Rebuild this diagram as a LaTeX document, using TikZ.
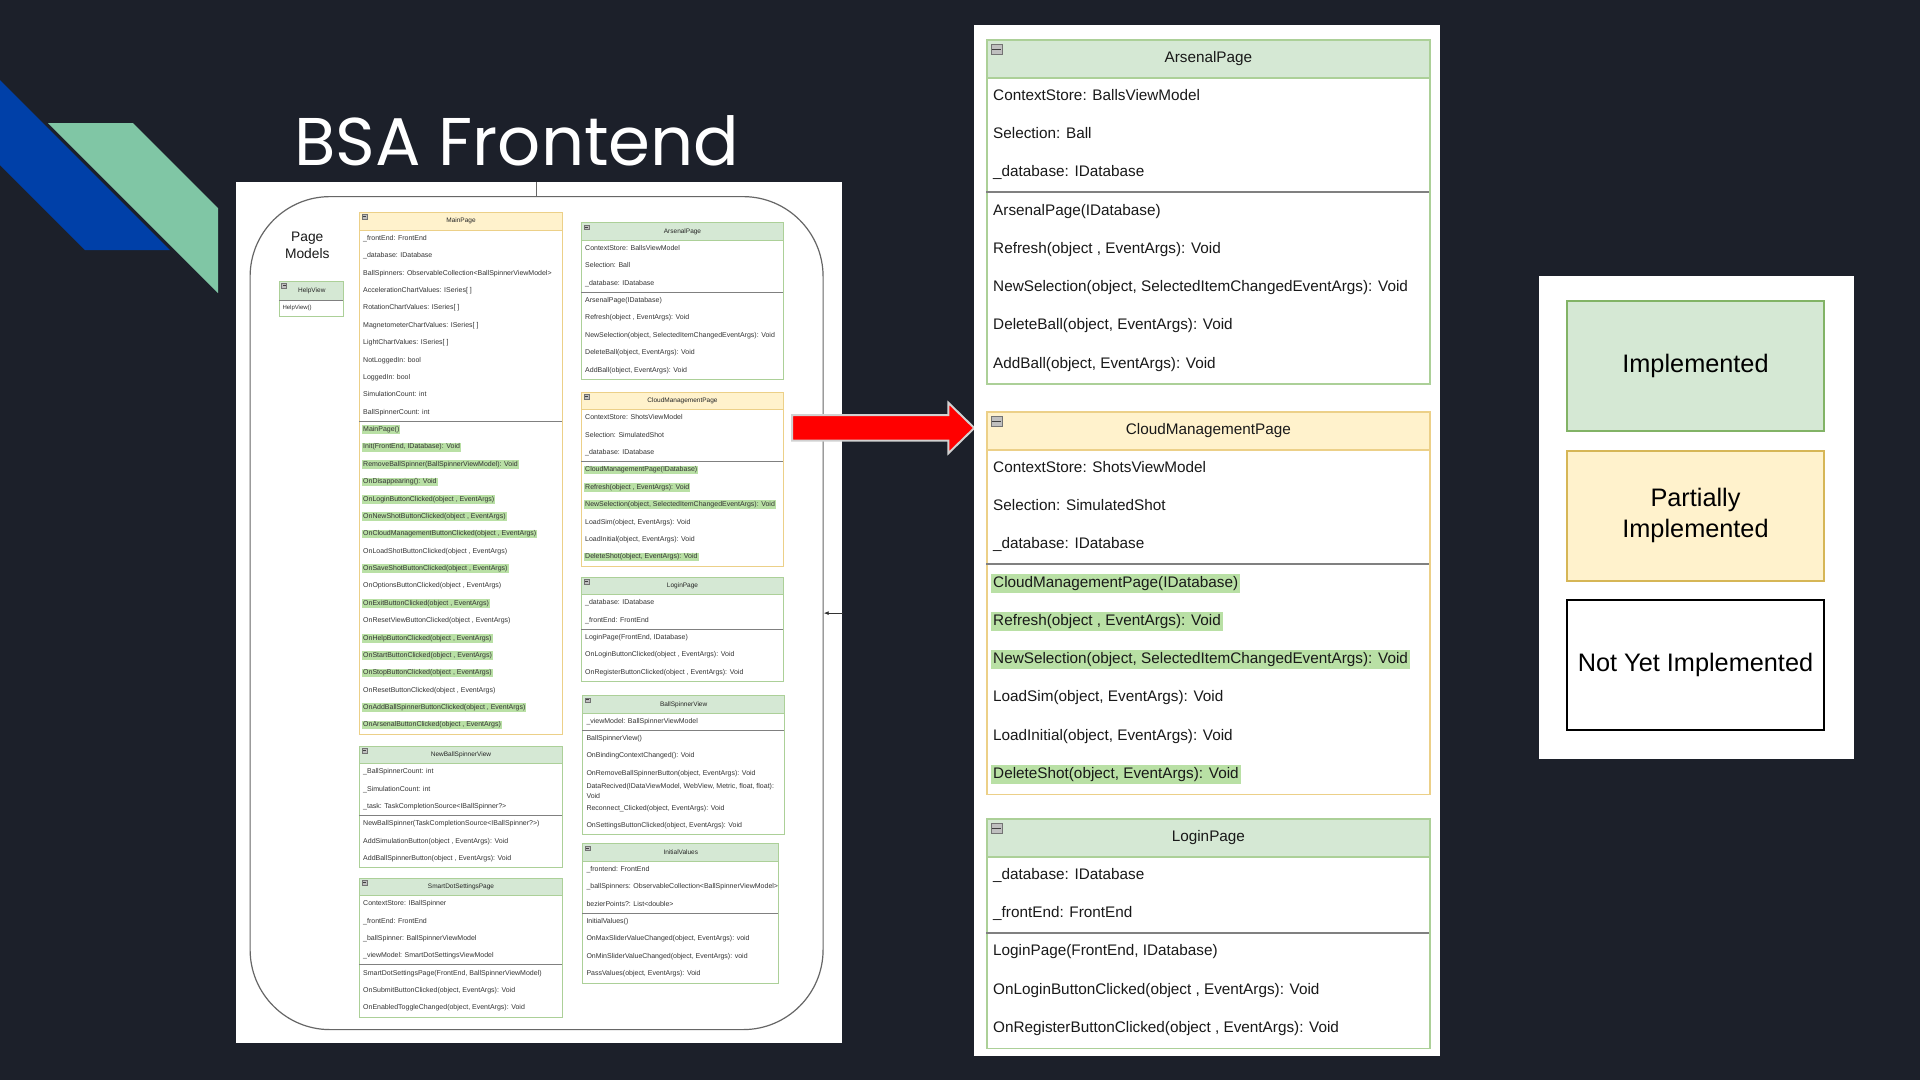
\documentclass[tikz,border=0pt]{standalone}
\usepackage{fontspec}
\setmainfont{Liberation Sans}
\newfontfamily\titlefont{Poppins}
\usepackage{tikz}
\usetikzlibrary{arrows.meta}
\usetikzlibrary{positioning}

\definecolor{bgdark}{RGB}{28,32,42}
\definecolor{stripeblue}{RGB}{0,64,168}
\definecolor{stripegreen}{RGB}{128,198,165}
\definecolor{grnF}{RGB}{213,232,212}
\definecolor{grnD}{RGB}{172,208,152}
\definecolor{yelF}{RGB}{255,242,204}
\definecolor{yelD}{RGB}{236,208,136}
\definecolor{grnLeg}{RGB}{130,179,102}
\definecolor{yelLeg}{RGB}{214,182,86}
\definecolor{hlgreen}{RGB}{185,224,165}
\definecolor{sepgray}{RGB}{128,128,128}

\tikzstyle{row} = [anchor=west, inner xsep=1pt, inner ysep=1pt, text height=5.2pt, text depth=1.6pt, text=black!80, font=\fontsize{7}{8.4}\selectfont]
\tikzstyle{brow} = [anchor=west, inner xsep=2pt, inner ysep=2pt, text height=11.5pt, text depth=3.5pt, text=black!90, font=\fontsize{15.3}{18}\selectfont]

% rows shared by the small and the zoomed classes
\newcommand{\arsAttr}{{ContextStore: BallsViewModel},{Selection: Ball},{\_database: IDatabase}}
\newcommand{\arsMeth}{todo/{ArsenalPage(IDatabase)},todo/{Refresh(object , EventArgs): Void},todo/{NewSelection(object, SelectedItemChangedEventArgs): Void},todo/{DeleteBall(object, EventArgs): Void},todo/{AddBall(object, EventArgs): Void}}
\newcommand{\cloudAttr}{{ContextStore: ShotsViewModel},{Selection: SimulatedShot},{\_database: IDatabase}}
\newcommand{\cloudMeth}{done/{CloudManagementPage(IDatabase)},done/{Refresh(object , EventArgs): Void},done/{NewSelection(object, SelectedItemChangedEventArgs): Void},todo/{LoadSim(object, EventArgs): Void},todo/{LoadInitial(object, EventArgs): Void},done/{DeleteShot(object, EventArgs): Void}}
\newcommand{\loginAttr}{{\_database: IDatabase},{\_frontEnd: FrontEnd}}
\newcommand{\loginMeth}{todo/{LoginPage(FrontEnd, IDatabase)},todo/{OnLoginButtonClicked(object , EventArgs): Void},todo/{OnRegisterButtonClicked(object , EventArgs): Void}}

\begin{document}
\begin{tikzpicture}[x=1pt, y=-1pt,
	cls/.style={draw=#1, fill=white, line width=1pt, anchor=north west, inner sep=0pt},
	hd/.style={anchor=north west, inner sep=0pt, line width=1pt, text=black!85, font=\fontsize{6.5}{7}\selectfont},
	grn/.style={draw=grnD, fill=grnF},
	yel/.style={draw=yelD, fill=yelF},
	big/.style={line width=1.5pt, text=black!90, font=\fontsize{15.3}{18}\selectfont},
	icon/.style={anchor=north west, draw=black!55, fill=black!25, line width=0.4pt,
		minimum width=5pt, minimum height=4.5pt, inner sep=0pt,
		path picture={\fill[black!75] ([xshift=1pt,yshift=-0.5pt]path picture bounding box.west)
			rectangle ([xshift=-1pt,yshift=0.5pt]path picture bounding box.east);}},
	bigicon/.style={icon, minimum width=11pt, minimum height=10pt, line width=0.6pt},
	divider/.style={draw=sepgray, line width=#1}, divider/.default=1pt,
	done/.style={fill=hlgreen}, todo/.style={},
	legend/.style={draw=#1, line width=2pt, minimum width=257pt, minimum height=130pt,
		inner sep=0pt, align=center, text=black, font=\fontsize{25.3}{30.6}\selectfont}]
	\useasboundingbox (0,0) rectangle (1920,1080);
	\fill[bgdark] (0,0) rectangle (1920,1080);
	%% Slide decoration
	\fill[stripeblue] (0,80) -- (170,250) -- (85,250) -- (0,165) -- cycle;
	\fill[stripegreen] (48,123) -- (133,123) -- (218,208) -- (218,293) -- cycle;
	\node[anchor=base west, inner sep=0pt, text=white, font=\titlefont\fontsize{67.5}{74}\selectfont] (title) at (294,165) {BSA Frontend};
	%% Screenshot of the whole diagram
	\node[fill=white, anchor=north west, inner sep=0pt, minimum width=605.5, minimum height=861] (shot) at (236,182) {};
	\node[draw=black!60, line width=1.2pt, rounded corners=80pt, anchor=north west, inner sep=0pt, minimum width=573, minimum height=833] (lane) at (249.5,196) {};
	\coordinate (laneTop) at ([yshift=14pt]lane.north);
	\draw[line width=0.8pt, black!60] (laneTop) -- (lane.north);
	\coordinate (laneIn) at ([xshift=19pt]lane.east);
	\draw[-{Latex[length=5pt,width=4pt]}, line width=0.8pt, black!80] (laneIn) -- (lane.east);
	\node[align=center, text=black!90, font=\fontsize{13.8}{17.3}\selectfont] (pm) at (307.3,245.3) {Page\\Models};
	% HelpView
	\node[cls=grnD, minimum width=64, minimum height=35] (hv) at (279.3,281) {};
	\node[hd, grn, minimum width=64, minimum height=19] (hvT) at (279.3,281) {HelpView};
	\node[icon] (hvI) at ([xshift=2pt,yshift=-2pt]hvT.north west) {};
	\draw[divider] (279.3,300) -- (343.3,300);
	\node[row, font=\fontsize{6}{7}\selectfont] (hvM1) at (281.3,308) {HelpView()};
	% MainPage
	\node[cls=yelD, minimum width=203, minimum height=522.2] (mp) at (359,211.5) {};
	\node[hd, yel, minimum width=203, minimum height=18.5] (mpT) at (359,211.5) {MainPage};
	\node[icon] (mpI) at ([xshift=2.5pt,yshift=-2.5pt]mpT.north west) {};
	\draw[divider] (359,421.1) -- (562,421.1);
	\foreach \txt [count=\i] in {{\_frontEnd: FrontEnd},{\_database: IDatabase},{BallSpinners: ObservableCollection<BallSpinnerViewModel>},{AccelerationChartValues: ISeries[ ]},{RotationChartValues: ISeries[ ]},{MagnetometerChartValues: ISeries[ ]},{LightChartValues: ISeries[ ]},{NotLoggedIn: bool},{LoggedIn: bool},{SimulationCount: int},{BallSpinnerCount: int}}
		\node[row] (mpA\i) at (362,{230+(\i-0.5)*17.37}) {\txt};
	\foreach \mk/\txt [count=\i] in {done/{MainPage()},done/{Init(FrontEnd, IDatabase): Void},done/{RemoveBallSpinner(BallSpinnerViewModel): Void},done/{OnDisappearing(): Void},done/{OnLoginButtonClicked(object , EventArgs)},done/{OnNewShotButtonClicked(object , EventArgs)},done/{OnCloudManagementButtonClicked(object , EventArgs)},todo/{OnLoadShotButtonClicked(object , EventArgs)},done/{OnSaveShotButtonClicked(object , EventArgs)},todo/{OnOptionsButtonClicked(object , EventArgs)},done/{OnExitButtonClicked(object , EventArgs)},todo/{OnResetViewButtonClicked(object , EventArgs)},done/{OnHelpButtonClicked(object , EventArgs)},done/{OnStartButtonClicked(object , EventArgs)},done/{OnStopButtonClicked(object , EventArgs)},todo/{OnResetButtonClicked(object , EventArgs)},done/{OnAddBallSpinnerButtonClicked(object , EventArgs)},done/{OnArsenalButtonClicked(object , EventArgs)}}
		\node[row,\mk] (mpM\i) at (362,{421.1+(\i-0.5)*17.37}) {\txt};
	% NewBallSpinnerView
	\node[cls=grnD, minimum width=203, minimum height=121.9] (nb) at (359,745.5) {};
	\node[hd, grn, minimum width=203, minimum height=17.7] (nbT) at (359,745.5) {NewBallSpinnerView};
	\node[icon] (nbI) at ([xshift=2.5pt,yshift=-2.5pt]nbT.north west) {};
	\draw[divider] (359,815.3) -- (562,815.3);
	\foreach \txt [count=\i] in {{\_BallSpinnerCount: int},{\_SimulationCount: int},{\_task: TaskCompletionSource<IBallSpinner?>}}
		\node[row] (nbA\i) at (362,{763.2+(\i-0.5)*17.37}) {\txt};
	\foreach \txt [count=\i] in {{NewBallSpinner(TaskCompletionSource<IBallSpinner?>)},{AddSimulationButton(object , EventArgs): Void},{AddBallSpinnerButton(object , EventArgs): Void}}
		\node[row] (nbM\i) at (362,{815.3+(\i-0.5)*17.37}) {\txt};
	% SmartDotSettingsPage
	\node[cls=grnD, minimum width=203, minimum height=139.1] (sd) at (359,877.7) {};
	\node[hd, grn, minimum width=203, minimum height=17.5] (sdT) at (359,877.7) {SmartDotSettingsPage};
	\node[icon] (sdI) at ([xshift=2.5pt,yshift=-2.5pt]sdT.north west) {};
	\draw[divider] (359,964.7) -- (562,964.7);
	\foreach \txt [count=\i] in {{ContextStore: IBallSpinner},{\_frontEnd: FrontEnd},{\_ballSpinner: BallSpinnerViewModel},{\_viewModel: SmartDotSettingsViewModel}}
		\node[row] (sdA\i) at (362,{895.2+(\i-0.5)*17.37}) {\txt};
	\foreach \txt [count=\i] in {{SmartDotSettingsPage(FrontEnd, BallSpinnerViewModel)},{OnSubmitButtonClicked(object, EventArgs): Void},{OnEnabledToggleChanged(object, EventArgs): Void}}
		\node[row] (sdM\i) at (362,{964.7+(\i-0.5)*17.37}) {\txt};
	% ArsenalPage
	\node[cls=grnD, minimum width=202, minimum height=156.7] (ar) at (581,222.3) {};
	\node[hd, grn, minimum width=202, minimum height=17.7] (arT) at (581,222.3) {ArsenalPage};
	\node[icon] (arI) at ([xshift=2.5pt,yshift=-2.5pt]arT.north west) {};
	\draw[divider] (581,292.1) -- (783,292.1);
	\foreach \txt [count=\i] in \arsAttr
		\node[row] (arA\i) at (584,{240+(\i-0.5)*17.37}) {\txt};
	\foreach \mk/\txt [count=\i] in \arsMeth
		\node[row,\mk] (arM\i) at (584,{292.1+(\i-0.5)*17.37}) {\txt};
	% CloudManagementPage
	\node[cls=yelD, minimum width=202, minimum height=173.9] (cm) at (581,391.7) {};
	\node[hd, yel, minimum width=202, minimum height=17.6] (cmT) at (581,391.7) {CloudManagementPage};
	\node[icon] (cmI) at ([xshift=2.5pt,yshift=-2.5pt]cmT.north west) {};
	\draw[divider] (581,461.4) -- (783,461.4);
	\foreach \txt [count=\i] in \cloudAttr
		\node[row] (cmA\i) at (584,{409.3+(\i-0.5)*17.37}) {\txt};
	\foreach \mk/\txt [count=\i] in \cloudMeth
		\node[row,\mk] (cmM\i) at (584,{461.4+(\i-0.5)*17.37}) {\txt};
	% LoginPage
	\node[cls=grnD, minimum width=202, minimum height=104.4] (lg) at (581,576.7) {};
	\node[hd, grn, minimum width=202, minimum height=17.6] (lgT) at (581,576.7) {LoginPage};
	\node[icon] (lgI) at ([xshift=2.5pt,yshift=-2.5pt]lgT.north west) {};
	\draw[divider] (581,629) -- (783,629);
	\foreach \txt [count=\i] in \loginAttr
		\node[row] (lgA\i) at (584,{594.3+(\i-0.5)*17.37}) {\txt};
	\foreach \mk/\txt [count=\i] in \loginMeth
		\node[row,\mk] (lgM\i) at (584,{629+(\i-0.5)*17.37}) {\txt};
	% BallSpinnerView
	\node[cls=grnD, minimum width=201.7, minimum height=139.3] (bv) at (582.3,695) {};
	\node[hd, grn, minimum width=201.7, minimum height=17.7] (bvT) at (582.3,695) {BallSpinnerView};
	\node[icon] (bvI) at ([xshift=2.5pt,yshift=-2.5pt]bvT.north west) {};
	\draw[divider] (582.3,730.1) -- (784,730.1);
	\node[row] (bvA1) at (585.3,721.4) {\_viewModel: BallSpinnerViewModel};
	\foreach \txt [count=\i] in {{BallSpinnerView()},{OnBindingContextChanged(): Void},{OnRemoveBallSpinnerButton(object, EventArgs): Void}}
		\node[row] (bvM\i) at (585.3,{730.1+(\i-0.5)*17.37}) {\txt};
	\node[anchor=west, inner xsep=1pt, inner ysep=1pt, align=left, text=black!80, font=\fontsize{7}{9.3}\selectfont] (bvM4) at (585.3,790.9) {DataRecived(IDataViewModel, WebView, Metric, float, float):\\Void};
	\foreach \txt [count=\i from 5] in {{Reconnect\_Clicked(object, EventArgs): Void},{OnSettingsButtonClicked(object, EventArgs): Void}}
		\node[row] (bvM\i) at (585.3,{730.1+(\i-0.5)*17.37}) {\txt};
	% InitialValues
	\node[cls=grnD, minimum width=196, minimum height=139.3] (iv) at (582.3,843.3) {};
	\node[hd, grn, minimum width=196, minimum height=17.7] (ivT) at (582.3,843.3) {InitialValues};
	\node[icon] (ivI) at ([xshift=2.5pt,yshift=-2.5pt]ivT.north west) {};
	\draw[divider] (582.3,913.1) -- (778.3,913.1);
	\foreach \txt [count=\i] in {{\_frontend: FrontEnd},{\_ballSpinners: ObservableCollection<BallSpinnerViewModel>},{bezierPoints?: List<double>}}
		\node[row] (ivA\i) at (585.3,{861+(\i-0.5)*17.37}) {\txt};
	\foreach \txt [count=\i] in {{InitialValues()},{OnMaxSliderValueChanged(object, EventArgs): void},{OnMinSliderValueChanged(object, EventArgs): void},{PassValues(object, EventArgs): Void}}
		\node[row] (ivM\i) at (585.3,{913.1+(\i-0.5)*17.37}) {\txt};
	%% Arrow to the zoomed part
	\filldraw[fill=red, draw=black!18, line width=2pt] (792,415) -- (948.3,415) -- (948.3,402.7) -- (974.3,428) -- (948.3,453.3) -- (948.3,440.7) -- (792,440.7) -- cycle;
	%% Zoomed classes
	\node[fill=white, anchor=north west, inner sep=0pt, minimum width=466.5, minimum height=1031] (zoom) at (973.5,24.5) {};
	% ArsenalPage
	\node[cls=grnD, line width=1.5pt, minimum width=443.3, minimum height=344.4] (zar) at (986,39) {};
	\node[hd, grn, big, minimum width=443.3, minimum height=38] (zarT) at (986,39) {ArsenalPage};
	\node[bigicon] (zarI) at ([xshift=5pt,yshift=-5pt]zarT.north west) {};
	\draw[divider=2pt] (986,191.9) -- (1429.3,191.9);
	\foreach \txt [count=\i] in \arsAttr
		\node[brow] (zarA\i) at (991,{77+(\i-0.5)*38.3}) {\txt};
	\foreach \mk/\txt [count=\i] in \arsMeth
		\node[brow,\mk] (zarM\i) at (991,{191.9+(\i-0.5)*38.3}) {\txt};
	% CloudManagementPage
	\node[cls=yelD, line width=1.5pt, minimum width=443.3, minimum height=382.7] (zcm) at (986,411) {};
	\node[hd, yel, big, minimum width=443.3, minimum height=38] (zcmT) at (986,411) {CloudManagementPage};
	\node[bigicon] (zcmI) at ([xshift=5pt,yshift=-5pt]zcmT.north west) {};
	\draw[divider=2pt] (986,563.9) -- (1429.3,563.9);
	\foreach \txt [count=\i] in \cloudAttr
		\node[brow] (zcmA\i) at (991,{449+(\i-0.5)*38.3}) {\txt};
	\foreach \mk/\txt [count=\i] in \cloudMeth
		\node[brow,\mk] (zcmM\i) at (991,{563.9+(\i-0.5)*38.3}) {\txt};
	% LoginPage
	\node[cls=grnD, line width=1.5pt, minimum width=443.3, minimum height=229.5] (zlg) at (986,818) {};
	\node[hd, grn, big, minimum width=443.3, minimum height=38] (zlgT) at (986,818) {LoginPage};
	\node[bigicon] (zlgI) at ([xshift=5pt,yshift=-5pt]zlgT.north west) {};
	\draw[divider=2pt] (986,932.6) -- (1429.3,932.6);
	\foreach \txt [count=\i] in \loginAttr
		\node[brow] (zlgA\i) at (991,{856+(\i-0.5)*38.3}) {\txt};
	\foreach \mk/\txt [count=\i] in \loginMeth
		\node[brow,\mk] (zlgM\i) at (991,{932.6+(\i-0.5)*38.3}) {\txt};
	%% Legend
	\node[fill=white, anchor=north west, inner sep=0pt, minimum width=315, minimum height=483.5] (key) at (1539,275.5) {};
	\node[legend=grnLeg, fill=grnF, anchor=north west] (impl) at (1566,300) {Implemented};
	\node[legend=yelLeg, fill=yelF, below=17.5pt of impl] (part) {Partially\\Implemented};
	\node[legend=black, fill=white, below=17.5pt of part] (notyet) {Not Yet Implemented};
\end{tikzpicture}
\end{document}
